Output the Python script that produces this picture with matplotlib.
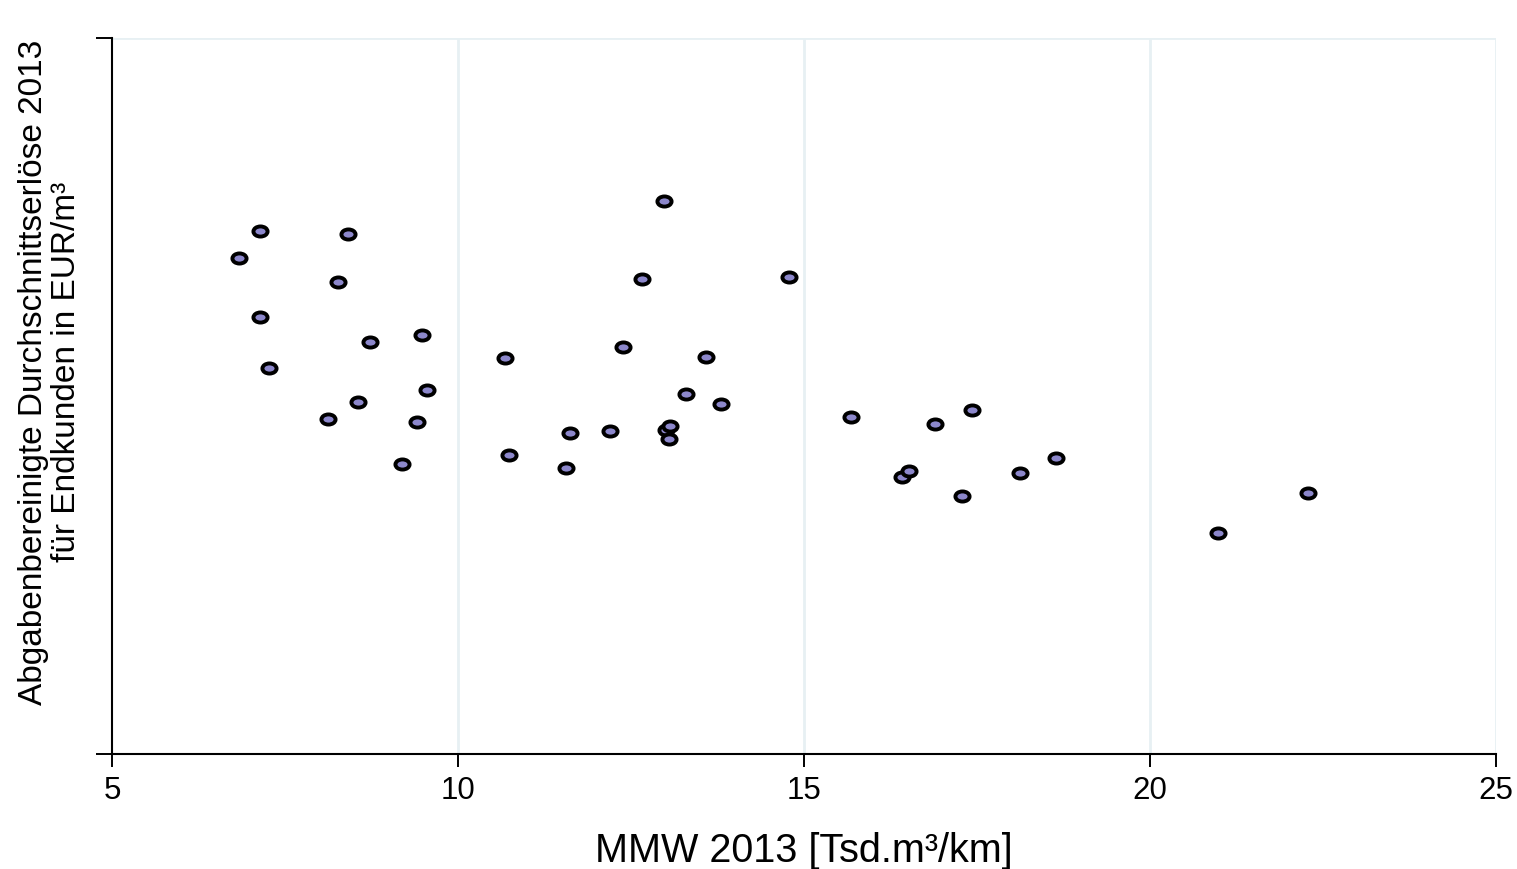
import matplotlib
matplotlib.use("Agg")
import matplotlib.pyplot as plt
import numpy as np
from matplotlib.path import Path
from matplotlib.transforms import Affine2D
from matplotlib.markers import MarkerStyle

plt.rcParams['font.family'] = ['Liberation Sans', 'DejaVu Sans']

# MMW 2013 [Tsd. m³/km]
mmw = [6.84, 7.14, 7.14, 7.27, 8.12, 8.27, 8.41, 8.56, 8.73, 9.19,
       9.41, 9.48, 9.55, 10.68, 10.74, 11.56, 11.62, 12.20, 12.38, 12.66,
       12.98, 13.01, 13.06, 13.05, 13.30, 13.58, 13.80, 14.78, 15.68, 16.42,
       16.52, 16.89, 17.28, 17.43, 18.12, 18.64, 20.98, 22.28]
# average revenue (relative position on the unlabelled y axis, 0 = bottom, 1 = top)
erloese = [0.693, 0.730, 0.610, 0.539, 0.468, 0.659, 0.726, 0.492, 0.575, 0.405,
           0.464, 0.585, 0.508, 0.553, 0.418, 0.399, 0.448, 0.451, 0.568, 0.663,
           0.772, 0.453, 0.458, 0.440, 0.503, 0.554, 0.489, 0.666, 0.471, 0.387,
           0.395, 0.461, 0.360, 0.480, 0.392, 0.413, 0.309, 0.365]

x_ticks = [5, 10, 15, 20, 25]
y_ticks = [0, 1]

W, H = 1517, 869
fig = plt.figure(figsize=(W / 100, H / 100), dpi=100)
ax = fig.add_axes([112 / W, 1 - 754 / H, (1496 - 112) / W, (754 - 38) / H])

grid_c = '#e7f0f3'
for xv in x_ticks[1:]:
    ax.axvline(xv, color=grid_c, lw=2.0, zorder=0)
ax.axhline(1, color=grid_c, lw=2.0, zorder=0)

# elliptic marker
circ = Path.unit_circle()
ell = Affine2D().scale(1.4, 1.0).transform_path(circ)
mk = MarkerStyle(ell)

ax.plot(mmw, erloese, linestyle='none', marker=mk, markersize=10.2,
        markerfacecolor='#8c87cb', markeredgecolor='black', markeredgewidth=2.8,
        zorder=3)

ax.set_xlim(5, 25)
ax.set_ylim(0, 1)
ax.set_xticks(x_ticks)
ax.set_xticklabels([str(t) for t in x_ticks])
ax.set_yticks(y_ticks)
ax.set_yticklabels([])

for s in ['top', 'right']:
    ax.spines[s].set_visible(False)
for s in ['left', 'bottom']:
    ax.spines[s].set_linewidth(1.5)
    ax.spines[s].set_color('black')

ax.tick_params(axis='x', length=9.5, width=1.4, labelsize=22.5, pad=6, colors='black')
ax.tick_params(axis='y', length=11.5, width=1.4, colors='black')

ax.set_xlabel('MMW 2013 [Tsd.m³/km]', fontsize=28.5)
ax.xaxis.set_label_coords(0.5, (754 - 851) / (754 - 38))
ax.xaxis.label.set_va('center')

fig.text(50 / W, 1 - 372 / H,
         'Abgabenbereinigte Durchschnittserlöse 2013\nfür Endkunden in EUR/m³',
         rotation=90, ha='center', va='center', multialignment='center',
         fontsize=24, linespacing=1.12)

fig.savefig('out.png', dpi=100, facecolor='white')
